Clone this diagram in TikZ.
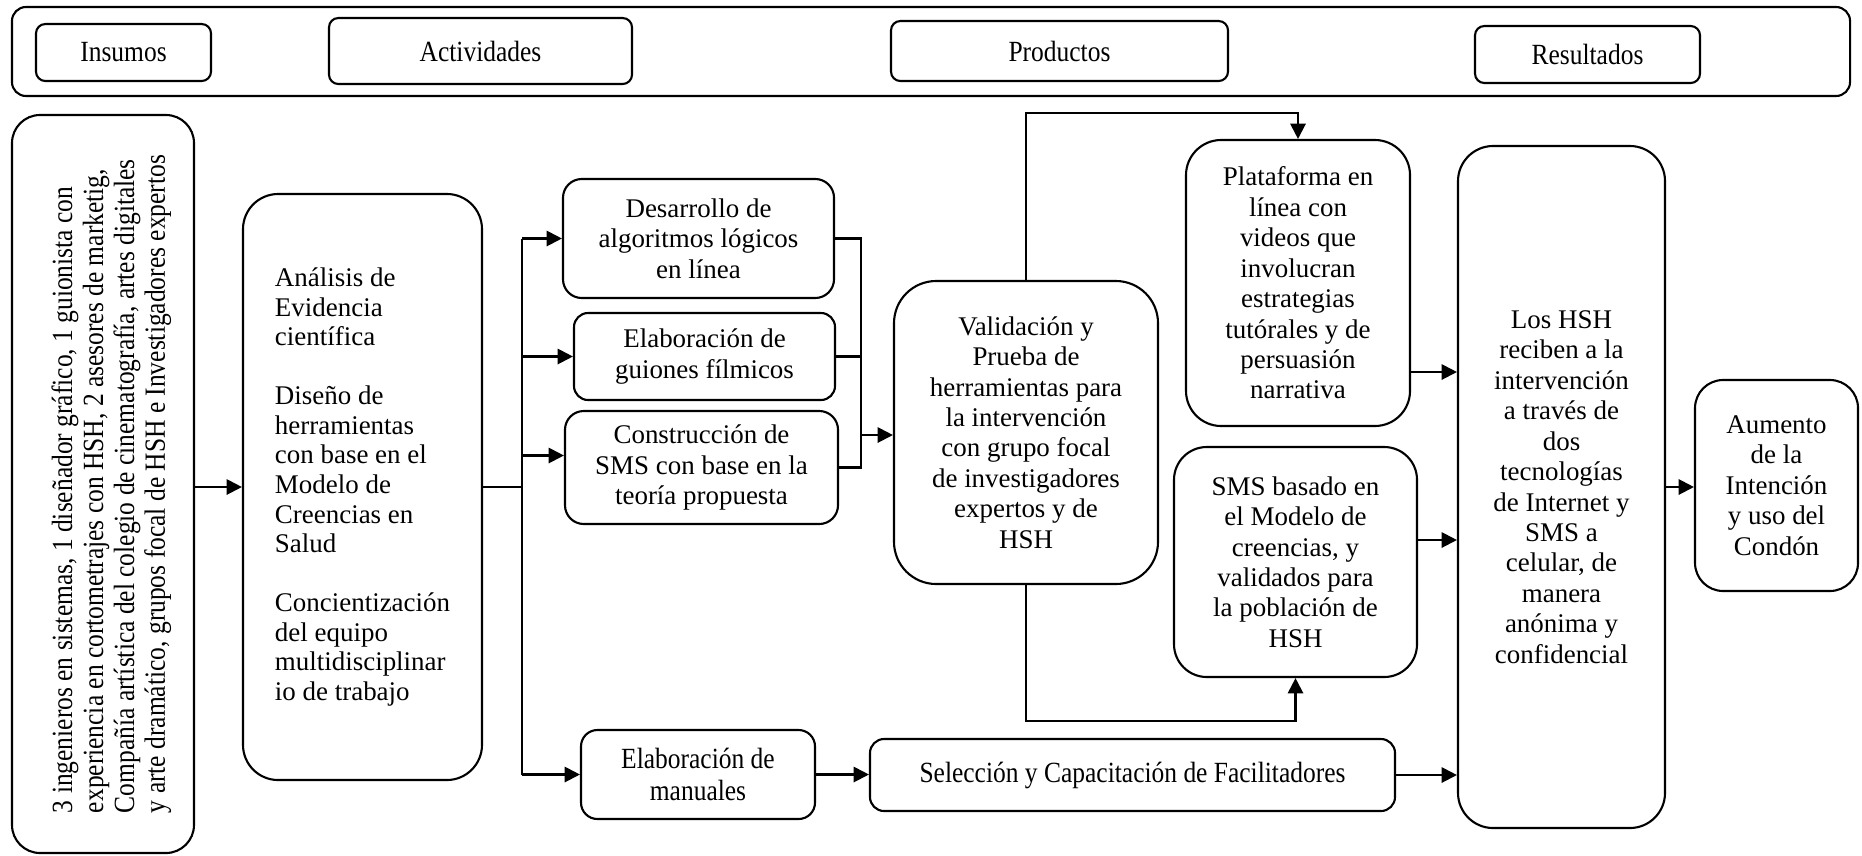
\documentclass[tikz,border=0pt]{standalone}
\usepackage{fontspec}
\setmainfont{Liberation Serif}
\newfontfamily\narrowfont[FakeStretch=0.87]{Liberation Serif}
\usetikzlibrary{arrows.meta}

\begin{document}
\begin{tikzpicture}[x=0.015cm, y=-0.015cm,
        box/.style={draw, line width=0.9pt, rounded corners=#1, align=center, inner sep=2pt,
            font=\fontsize{11.5}{13}\selectfont},
        box/.default=7pt,
        narrow/.style={font=\narrowfont\fontsize{12.5}{13.5}\selectfont},
        arr/.style={-{Triangle[length=2.3mm,width=2.3mm]}, line width=0.9pt},
        ln/.style={line width=0.9pt}]
            \useasboundingbox (0,0) rectangle (1862,855);

            \node[box=6pt, minimum width=27.57cm, minimum height=1.335cm] (cab) at (931,51.5) {};
            \node[box=4pt, narrow, minimum width=2.625cm, minimum height=0.855cm] (tins) at (123.5,52.5) {Insumos};
            \node[box=4pt, narrow, minimum width=4.545cm, minimum height=0.99cm] (tact) at (480.5,51) {Actividades};
            \node[box=4pt, narrow, minimum width=5.055cm, minimum height=0.9cm] (tpro) at (1059.5,51) {Productos};
            \node[box=4pt, narrow, minimum width=3.375cm, minimum height=0.855cm] (tres) at (1587.5,54.5) {Resultados};

            \node[box=12pt, rotate=90, align=left, minimum width=11.07cm, minimum height=2.73cm,
                font=\narrowfont\fontsize{12.5}{13.2}\selectfont] (ins) at (103,484)
                {\rule{0pt}{16pt}3 ingenieros en sistemas, 1 diseñador gráfico, 1 guionista con\\
                 experiencia en cortometrajes con HSH, 2 asesores de marketig,\\
                 Compañía artística del colegio de cinematografía, artes digitales\\
                 y arte dramático, grupos focal de HSH e Investigadores expertos};
            \node[box=15pt, align=left, minimum width=3.585cm, minimum height=8.79cm,
                font=\fontsize{11.5}{12.6}\selectfont] (ana) at (362.5,487)
                {Análisis de\\Evidencia\\científica\\[12.6pt]Diseño de\\herramientas\\con base en el\\Modelo de\\Creencias en\\Salud\\[12.6pt]Concientización\\del equipo\\multidisciplinar\\io de trabajo};

            \node[box=8pt, minimum width=4.065cm, minimum height=1.785cm] (des) at (698.5,238.5) {Desarrollo de\\algoritmos lógicos\\en línea};
            \node[box=6pt, minimum width=3.915cm, minimum height=1.305cm] (gui) at (704.5,356.5) {Elaboración de\\guiones fílmicos};
            \node[box=8pt, minimum width=4.095cm, minimum height=1.695cm] (con) at (701.5,467.5) {Construcción de\\SMS con base en la\\teoría propuesta};
            \node[box=7pt, narrow, minimum width=3.51cm, minimum height=1.335cm] (man) at (698,774.5) {Elaboración de\\manuales};
            \node[box=6pt, narrow, minimum width=7.875cm, minimum height=1.08cm] (sel) at (1132.5,775) {Selección y Capacitación de Facilitadores};

            \node[box=18pt, minimum width=3.96cm, minimum height=4.545cm] (val) at (1026,432.5)
                {Validación y\\Prueba de\\herramientas para\\la intervención\\con grupo focal\\de investigadores\\expertos y de\\HSH};
            \node[box=15pt, minimum width=3.36cm, minimum height=4.29cm] (pla) at (1298,283)
                {Plataforma en\\línea con\\videos que\\involucran\\estrategias\\tutórales y de\\persuasión\\narrativa};
            \node[box=14pt, minimum width=3.645cm, minimum height=3.45cm] (sms) at (1295.5,562)
                {SMS basado en\\el Modelo de\\creencias, y\\validados para\\la población de\\HSH};
            \node[box=15pt, minimum width=3.105cm, minimum height=10.23cm] (hsh) at (1561.5,487)
                {Los HSH\\reciben a la\\intervención\\a través de\\dos\\tecnologías\\de Internet y\\SMS a\\celular, de\\manera\\anónima y\\confidencial};
            \node[box=12pt, minimum width=2.445cm, minimum height=3.165cm] (aum) at (1776.5,485.5)
                {Aumento\\de la\\Intención\\y uso del\\Condón};

            \draw[arr] (ins.south |- ana.west) -- (ana.west);

            \coordinate (rama) at (522,487);
            \coordinate (c1) at ([yshift=0.18cm]con.west);
            \draw[ln] (ana.east) -- (rama);
            \draw[ln] (rama |- des.west) -- (rama |- man.west);
            \draw[arr] (rama |- des.west) -- (des.west);
            \draw[arr] (rama |- gui.west) -- (gui.west);
            \draw[arr] (rama |- c1) -- (c1);
            \draw[arr] (rama |- man.west) -- (man.west);

            \coordinate (une) at (861,435);
            \draw[ln] (des.east) -| (une);
            \draw[ln] (gui.east) -| (une);
            \draw[ln] (con.east) -| (une);
            \draw[arr] (une) -- (une -| val.west);

            \coordinate (arriba) at (1026,113);
            \coordinate (abajo) at (1026,721);
            \draw[arr] (val.north) -- (val.north |- arriba) -| (pla.north);
            \draw[arr] (val.south) -- (val.south |- abajo) -| (sms.south);

            \coordinate (p1) at ([yshift=-1.335cm]pla.east);
            \coordinate (s1) at ([yshift=0.33cm]sms.east);
            \draw[arr] (p1) -- (p1 -| hsh.west);
            \draw[arr] (s1) -- (s1 -| hsh.west);
            \draw[arr] (sel.east) -- (sel.east -| hsh.west);
            \draw[arr] (man.east) -- (man.east -| sel.west);
            \draw[arr] (hsh.east) -- (hsh.east -| aum.west);
\end{tikzpicture}
\end{document}
